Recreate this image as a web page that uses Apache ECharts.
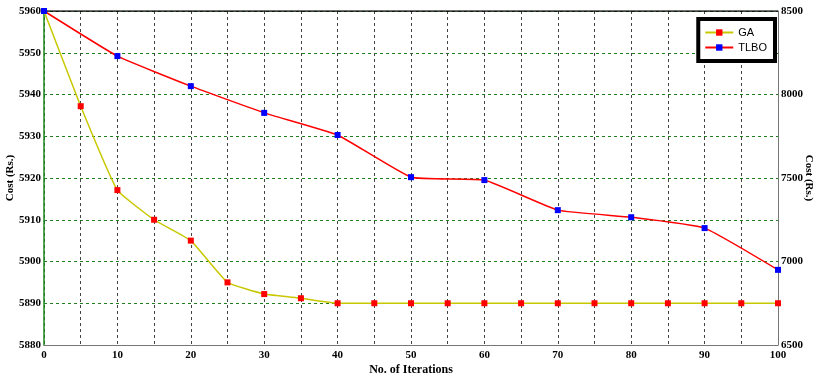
<!DOCTYPE html>
<html>
<head>
<meta charset="utf-8">
<script src="https://cdn.jsdelivr.net/npm/echarts@6/dist/echarts.min.js"></script>
<style>
  html, body { margin: 0; padding: 0; background: #fff; }
  #main { width: 825px; height: 378px; }
</style>
</head>
<body>
<div id="main"></div>
<script>
// iterations and costs
var gaIter = [0, 5, 10, 15, 20, 25, 30, 35, 40, 45, 50, 55, 60, 65, 70, 75, 80, 85, 90, 95, 100];
var gaCost = [5960, 5937.2, 5917.1, 5910, 5905, 5895, 5892.2, 5891.2, 5890, 5890, 5890, 5890, 5890, 5890, 5890, 5890, 5890, 5890, 5890, 5890, 5890];
var tlboIter = [0, 10, 20, 30, 40, 50, 60, 70, 80, 90, 100];
var tlboCost = [5960, 5949.2, 5942, 5935.6, 5930.3, 5920.2, 5919.5, 5912.3, 5910.6, 5908, 5898];
var leftTicks = { min: 5880, max: 5960, step: 10 };
var rightTicks = { min: 6500, max: 8500, step: 500 };

var font = 'Liberation Serif';

function pairs(xs, ys) {
    return xs.map(function(x, i) { return [x, ys[i]]; });
}
function plain(v) { return String(v); }

var chart = echarts.init(document.getElementById('main'));
var option = {
    animation: false,
    grid: { left: 44, right: 47, top: 11, bottom: 33, outerBoundsMode: 'none' },
    legend: {
        orient: 'vertical',
        right: 50,
        top: 19,
        padding: [8, 8, 8, 6],
        itemGap: 4,
        itemWidth: 28,
        itemHeight: 8,
        backgroundColor: '#fff',
        borderColor: '#000',
        borderWidth: 4,
        borderRadius: 0,
        textStyle: { fontFamily: 'Liberation Sans', fontSize: 11, color: '#000' },
        data: ['GA', 'TLBO']
    },
    xAxis: {
        type: 'value',
        min: 0,
        max: 100,
        interval: 5,
        name: 'No. of Iterations',
        nameLocation: 'middle',
        nameGap: 19,
        nameMoveOverlap: false,
        nameTextStyle: { fontFamily: font, fontWeight: 'bold', fontSize: 12, color: '#000' },
        axisLine: { show: true, lineStyle: { color: '#777', width: 1 } },
        axisTick: { show: false },
        axisLabel: {
            fontFamily: font, fontWeight: 'bold', fontSize: 11, color: '#000', margin: 5,
            formatter: function(v) { return v % 10 === 0 ? String(v) : ''; }
        },
        splitLine: { show: true, lineStyle: { color: '#444', type: [3, 3], width: 1 } }
    },
    yAxis: [{
        type: 'value',
        min: leftTicks.min,
        max: leftTicks.max,
        interval: leftTicks.step,
        name: 'Cost (Rs.)',
        nameLocation: 'middle',
        nameGap: 28,
        nameMoveOverlap: false,
        nameTextStyle: { fontFamily: font, fontWeight: 'bold', fontSize: 11, color: '#000' },
        axisLine: { show: true, lineStyle: { color: '#1a8a1a', width: 1.5 } },
        axisTick: { show: false },
        axisLabel: { fontFamily: font, fontWeight: 'bold', fontSize: 11, color: '#000', margin: 3, formatter: plain },
        splitLine: { show: true, lineStyle: { color: '#1f7f1f', type: [3, 3], width: 1 } }
    }, {
        type: 'value',
        min: rightTicks.min,
        max: rightTicks.max,
        interval: rightTicks.step,
        position: 'right',
        name: 'Cost (Rs.)',
        nameLocation: 'middle',
        nameRotate: -90,
        nameGap: 25,
        nameMoveOverlap: false,
        nameTextStyle: { fontFamily: font, fontWeight: 'bold', fontSize: 11, color: '#000' },
        axisLine: { show: true, lineStyle: { color: '#777', width: 1 } },
        axisTick: { show: false },
        axisLabel: { fontFamily: font, fontWeight: 'bold', fontSize: 11, color: '#000', margin: 3, formatter: plain },
        splitLine: { show: false }
    }],
    series: [{
        name: 'GA',
        type: 'line',
        smooth: 0.12,
        data: pairs(gaIter, gaCost),
        symbol: 'rect',
        symbolSize: 6,
        lineStyle: { color: '#c8c800', width: 1.5 },
        itemStyle: { color: '#ff0000' },
        z: 3
    }, {
        name: 'TLBO',
        type: 'line',
        smooth: 0.12,
        data: pairs(tlboIter, tlboCost),
        symbol: 'rect',
        symbolSize: 6,
        lineStyle: { color: '#ff0000', width: 1.5 },
        itemStyle: { color: '#0000ff' },
        z: 4
    }, {
        // black frame line along the top of the plot
        type: 'line',
        data: [[0, leftTicks.max], [100, leftTicks.max]],
        symbol: 'none',
        silent: true,
        lineStyle: { color: '#000', width: 1.5 },
        z: 2
    }]
};
chart.setOption(option);
</script>
</body>
</html>
